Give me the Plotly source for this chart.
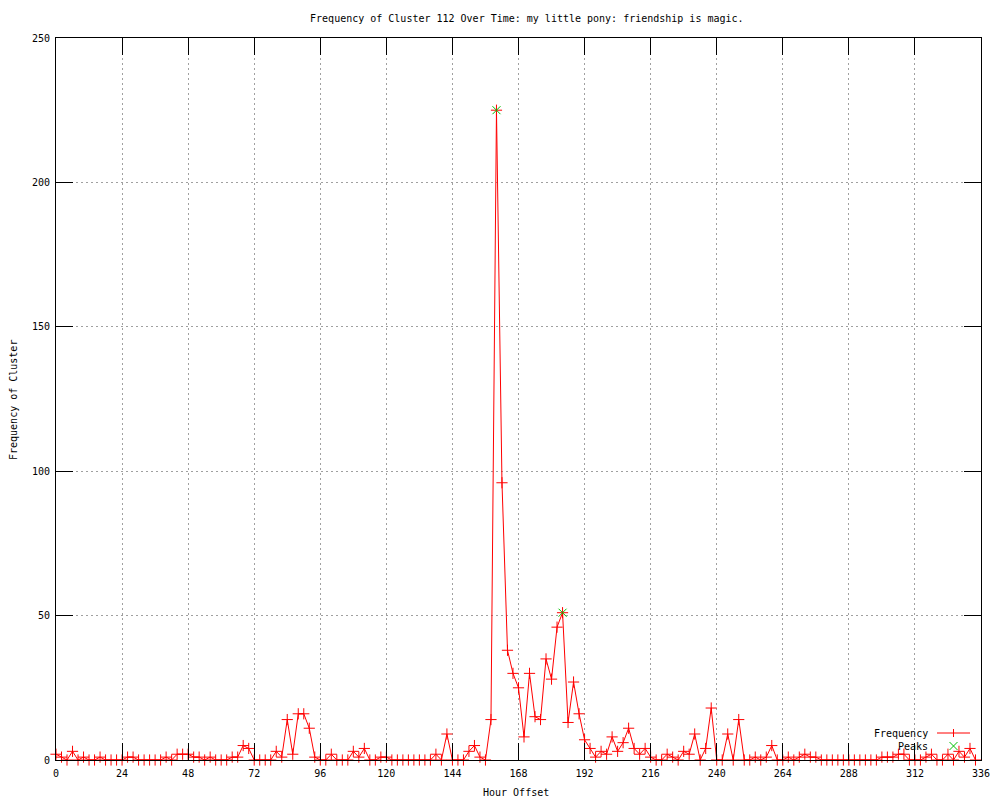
import plotly.graph_objects as go

# hour offsets (every 2 hours) and cluster frequency
hours = list(range(0, 336, 2))
frequency = [
    2, 1, 0, 3, 0, 1, 0, 0, 1, 0, 0, 0,
    0, 1, 1, 0, 0, 0, 0, 0, 1, 0, 2, 2,
    2, 1, 1, 0, 1, 0, 0, 0, 1, 1, 5, 4,
    0, 0, 0, 0, 3, 1, 14, 2, 16, 16, 11, 1,
    0, 0, 2, 0, 0, 0, 3, 1, 4, 0, 0, 1,
    1, 0, 0, 0, 0, 0, 0, 0, 0, 2, 0, 9,
    0, 0, 0, 3, 5, 1, 0, 14, 225, 96, 38, 30,
    25, 8, 30, 15, 14, 35, 28, 46, 51, 13, 27, 16,
    7, 4, 1, 3, 2, 8, 3, 6, 11, 4, 2, 4,
    1, 0, 0, 2, 1, 0, 3, 2, 9, 0, 4, 18,
    0, 0, 9, 0, 14, 0, 0, 1, 0, 1, 5, 0,
    0, 1, 0, 1, 2, 1, 1, 0, 0, 0, 0, 0,
    0, 0, 0, 0, 0, 0, 1, 1, 1, 2, 2, 0,
    0, 0, 1, 2, 0, 0, 2, 0, 3, 1, 4, 0,
]
peak_hours = [160, 184]
peak_values = [225, 51]

x_ticks = list(range(0, 337, 24))
y_ticks = list(range(0, 251, 50))

FONT = "DejaVu Sans Mono"
RED = "#ff0000"
GREEN = "#00c000"

# the page body has an 8px margin, so the figure is a bit smaller than the window
OFF = 8
W, H = 992, 792
L, R, T, B = 48, 19, 30, 40
pw, ph = W - L - R, H - T - B


def px(xp):
    # window pixel column -> paper coordinate
    return (xp - OFF - L) / pw


def py(yp):
    # window pixel row -> paper coordinate
    return (H - B - (yp - OFF)) / ph


fig = go.Figure()
fig.add_trace(go.Scatter(
    x=hours, y=frequency, mode="lines+markers", name="Frequency",
    line=dict(color=RED, width=1),
    marker=dict(symbol="cross-thin", size=8, line=dict(color=RED, width=1)),
    cliponaxis=False,
))
fig.add_trace(go.Scatter(
    x=peak_hours, y=peak_values, mode="markers", name="Peaks",
    marker=dict(symbol="x-thin", size=8, line=dict(color=GREEN, width=1)),
))

txt = dict(family=FONT, size=10, color="black")

# gnuplot style key, bottom right (text left of the sample)
fig.add_annotation(x=px(930), y=py(733), xref="paper", yref="paper", text="Frequency",
                   showarrow=False, xanchor="right", yanchor="middle", font=txt)
fig.add_annotation(x=px(930), y=py(746), xref="paper", yref="paper", text="Peaks",
                   showarrow=False, xanchor="right", yanchor="middle", font=txt)
fig.add_shape(type="line", xref="paper", yref="paper",
              x0=px(937), x1=px(970), y0=py(733), y1=py(733),
              line=dict(color=RED, width=1))
fig.add_shape(type="line", xref="paper", yref="paper",
              x0=px(953.5), x1=px(953.5), y0=py(729), y1=py(737),
              line=dict(color=RED, width=1))
fig.add_shape(type="line", xref="paper", yref="paper",
              x0=px(949.5), x1=px(957.5), y0=py(742), y1=py(750),
              line=dict(color=GREEN, width=1))
fig.add_shape(type="line", xref="paper", yref="paper",
              x0=px(949.5), x1=px(957.5), y0=py(750), y1=py(742),
              line=dict(color=GREEN, width=1))

# axis titles
fig.add_annotation(x=px(516), y=py(793), xref="paper", yref="paper", text="Hour Offset",
                   showarrow=False, xanchor="center", yanchor="middle", font=txt)
fig.add_annotation(x=px(13), y=py(400), xref="paper", yref="paper",
                   text="Frequency of Cluster", textangle=-90,
                   showarrow=False, xanchor="center", yanchor="middle", font=txt)

axis_common = dict(
    showline=True, linecolor="black", linewidth=1, mirror="ticks",
    ticks="inside", ticklen=17, tickcolor="black", tickwidth=1,
    showgrid=True, gridcolor="#a0a0a0", griddash="2px,3px", gridwidth=1,
    zeroline=False, automargin=False,
    tickfont=txt,
)

fig.update_layout(
    width=W, height=H,
    margin=dict(l=L, r=R, t=T, b=B),
    paper_bgcolor="white", plot_bgcolor="white",
    showlegend=False,
    title=dict(text="Frequency of Cluster 112 Over Time: my little pony: friendship is magic.",
               x=0.523, xanchor="center", y=1 - 10 / H, yanchor="middle",
               font=txt),
    xaxis=dict(axis_common, range=[0, 336], tickvals=x_ticks, ticklabelstandoff=4),
    yaxis=dict(axis_common, range=[0, 250], tickvals=y_ticks, ticklabelstandoff=3),
)

fig.write_html("out.html")
